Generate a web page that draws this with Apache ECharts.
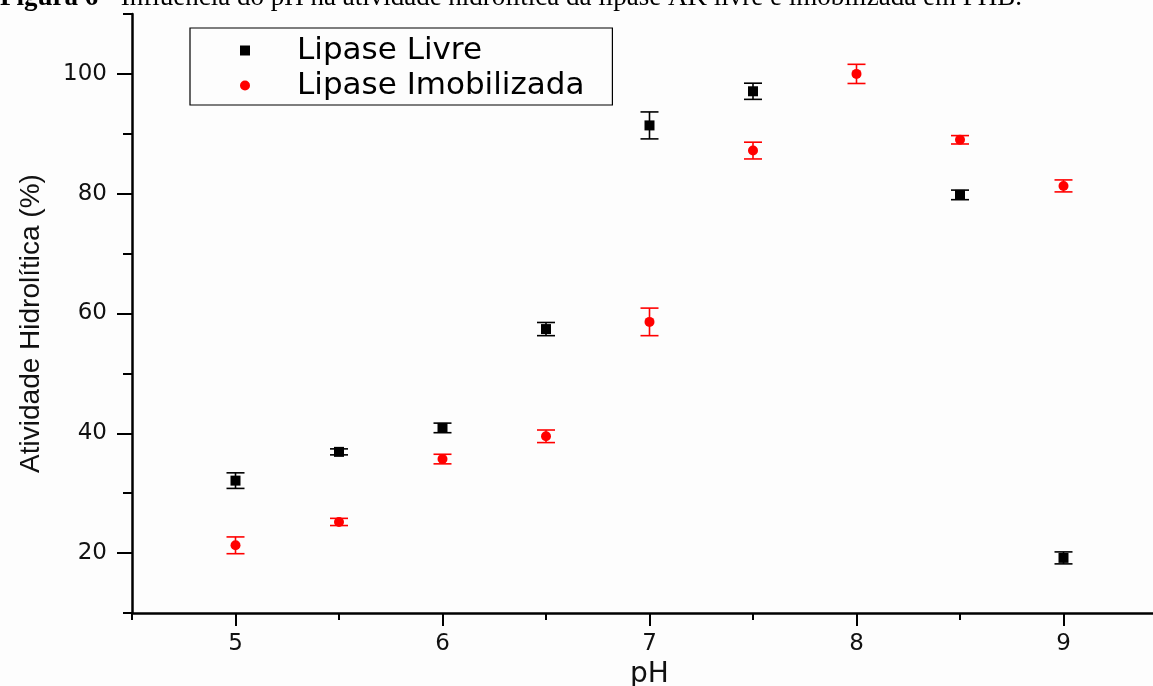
<!DOCTYPE html>
<html><head><meta charset="utf-8">
<script src="https://cdn.jsdelivr.net/npm/echarts@6/dist/echarts.min.js"></script>
<style>html,body{margin:0;padding:0;background:#fdfdfd;overflow:hidden}#c{width:1153px;height:686px}</style>
</head><body><div id="c"></div>
<script>
const titleBold = 'Figura 6';
const titleRest = ' - Influência do pH na atividade hidrolítica da lipase AK livre e imobilizada em PHB.';
const xLabel = 'pH';
const yLabel = 'Atividade Hidrolítica (%)';
const seriesNames = ['Lipase Livre', 'Lipase Imobilizada'];
const phValues = [5, 5.5, 6, 6.5, 7, 7.5, 8, 8.5, 9];
const livreValues = [32.1, 36.9, 40.9, 57.4, 91.4, 97.1, null, 79.8, 19.2];
const livreErrors = [1.3, 0.5, 0.8, 1.1, 2.25, 1.35, null, 0.8, 1.0];
const imobValues = [21.3, 25.2, 35.7, 39.5, 58.6, 87.2, 100.0, 89.0, 81.3];
const imobErrors = [1.4, 0.6, 0.8, 1.05, 2.3, 1.4, 1.6, 0.7, 1.0];
const xMajorTicks = [5, 6, 7, 8, 9];
const xMinorTicks = [4.5, 5.5, 6.5, 7.5, 8.5, 9.5];
const yMajorTicks = [20, 40, 60, 80, 100];
const yMinorTicks = [10, 30, 50, 70, 90, 110];

function points(vals) {
  const out = [];
  phValues.forEach((x, i) => { if (vals[i] != null) out.push([x, vals[i]]); });
  return out;
}
function errs(vals, e) {
  const out = [];
  phValues.forEach((x, i) => { if (vals[i] != null) out.push([x, vals[i] - e[i], vals[i] + e[i]]); });
  return out;
}
function errRender(color) {
  return function (params, api) {
    const x = api.value(0), lo = api.value(1), hi = api.value(2);
    const a = api.coord([x, lo]), b = api.coord([x, hi]);
    const hw = 9;
    const st = { stroke: color, lineWidth: 1.6 };
    return { type: 'group', children: [
      { type: 'line', shape: { x1: a[0], y1: a[1], x2: b[0], y2: b[1] }, style: st },
      { type: 'line', shape: { x1: a[0] - hw, y1: a[1], x2: a[0] + hw, y2: a[1] }, style: st },
      { type: 'line', shape: { x1: b[0] - hw, y1: b[1], x2: b[0] + hw, y2: b[1] }, style: st }
    ]};
  };
}

const chart = echarts.init(document.getElementById('c'), null, { renderer: 'canvas' });
const axisFont = 'DejaVu Sans';
const lineSt = { color: '#000', width: 2.5 };
const tickSt = { color: '#000', width: 2 };
chart.setOption({
  backgroundColor: '#fdfdfd',
  animation: false,
  grid: { left: 132, right: -14, top: 14, bottom: 73, containLabel: false, outerBoundsMode: 'none' },
  graphic: [{
    type: 'text', x: 0, y: -2, z: 100,
    style: {
      text: '{b|' + titleBold + '}{n|' + titleRest + '}',
      rich: {
        b: { fontFamily: 'Liberation Serif', fontSize: 27, fontWeight: 'bold', fill: '#000' },
        n: { fontFamily: 'Liberation Serif', fontSize: 27, fill: '#000' }
      },
      verticalAlign: 'middle'
    }
  }],
  legend: {
    orient: 'vertical', left: 190, top: 28,
    data: seriesNames,
    itemWidth: 10, itemHeight: 10, itemGap: 4,
    padding: [7, 28, 4, 50],
    borderColor: '#000', borderWidth: 1.2,
    backgroundColor: '#fdfdfd',
    formatter: function (name) { return '{s|}{t|' + name + '}'; },
    textStyle: {
      fontSize: 31, lineHeight: 30, fontFamily: 'DejaVu Sans', color: '#000',
      rich: {
        s: { width: 42, height: 30 },
        t: { fontSize: 31, lineHeight: 30, fontFamily: 'DejaVu Sans', color: '#000' }
      }
    }
  },
  xAxis: [{
    type: 'value', min: 4.5, max: 9.5, position: 'bottom',
    axisLine: { show: true, onZero: false, lineStyle: lineSt },
    axisTick: { show: true, customValues: xMajorTicks, length: 13, lineStyle: tickSt },
    axisLabel: { customValues: xMajorTicks, margin: 20, fontSize: 23, fontFamily: axisFont, color: '#111' },
    splitLine: { show: false },
    name: xLabel, nameLocation: 'middle', nameGap: 48,
    nameTextStyle: { fontSize: 28, fontFamily: axisFont, color: '#111' }
  }, {
    type: 'value', min: 4.5, max: 9.5, position: 'bottom',
    axisLine: { show: false, onZero: false },
    axisTick: { show: true, customValues: xMinorTicks, length: 7, lineStyle: tickSt },
    axisLabel: { show: false }, splitLine: { show: false }
  }],
  yAxis: [{
    type: 'value', min: 10, max: 110, position: 'left',
    axisLine: { show: true, onZero: false, lineStyle: lineSt },
    axisTick: { show: true, customValues: yMajorTicks, length: 15, lineStyle: tickSt },
    axisLabel: { customValues: yMajorTicks, margin: 25, fontSize: 23, fontFamily: axisFont, color: '#111' },
    splitLine: { show: false },
    name: yLabel, nameLocation: 'middle', nameGap: 87, nameRotate: 90,
    nameTextStyle: { fontSize: 28, fontFamily: 'Liberation Sans', color: '#111', padding: [0, 20, 0, 0] }
  }, {
    type: 'value', min: 10, max: 110, position: 'left',
    axisLine: { show: false, onZero: false },
    axisTick: { show: true, customValues: yMinorTicks, length: 9, lineStyle: tickSt },
    axisLabel: { show: false }, splitLine: { show: false }
  }],
  series: [
    { name: 'errLivre', type: 'custom', renderItem: errRender('#000'), data: errs(livreValues, livreErrors),
      encode: { x: 0, y: [1, 2] }, z: 2, silent: true },
    { name: 'errImob', type: 'custom', renderItem: errRender('#ff0000'), data: errs(imobValues, imobErrors),
      encode: { x: 0, y: [1, 2] }, z: 2, silent: true },
    { name: seriesNames[0], type: 'scatter', symbol: 'rect', symbolSize: 10, data: points(livreValues),
      itemStyle: { color: '#000', opacity: 1 }, z: 3 },
    { name: seriesNames[1], type: 'scatter', symbol: 'circle', symbolSize: 10, data: points(imobValues),
      itemStyle: { color: '#ff0000', opacity: 1 }, z: 3 }
  ]
});
</script></body></html>
